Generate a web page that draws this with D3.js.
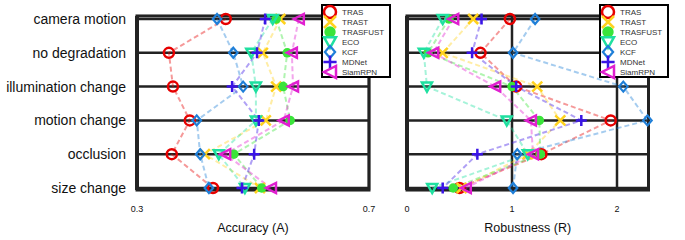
<!DOCTYPE html>
<html>
<head>
<meta charset="utf-8">
<script src="https://d3js.org/d3.v7.min.js"></script>
<style>
  body { margin: 0; background: #fff; font-family: "Liberation Sans", Arial, sans-serif; }
  .grid { stroke: #222; stroke-width: 2.5; }
  .frame { stroke: #222; stroke-width: 3; fill: none; }
  .link { fill: none; stroke-width: 2; stroke-dasharray: 5,3; opacity: 0.4; }
</style>
</head>
<body>
<div id="chart"></div>
<script>
  // categories (rows) and trackers (series)
  const categories = ["camera motion", "no degradation", "illumination change", "motion change", "occlusion", "size change"];
  const trackers = ["TRAS", "TRAST", "TRASFUST", "ECO", "KCF", "MDNet", "SiamRPN"];
  const colors = ["#e60000", "#ffd21f", "#3ae43a", "#1fe0a0", "#1f7fd8", "#3a14e6", "#e020d0"];
  const shapes = ["o", "x", "dot", "v", "d", "+", "<"];

  // accuracy per tracker, in the order of categories
  const accuracy = [
    [0.453, 0.355, 0.362, 0.391, 0.360, 0.431],
    [0.547, 0.517, 0.540, 0.522, 0.417, 0.512],
    [0.540, 0.559, 0.552, 0.564, 0.467, 0.515],
    [0.534, 0.497, 0.505, 0.505, 0.441, 0.486],
    [0.438, 0.466, 0.483, 0.403, 0.409, 0.424],
    [0.521, 0.507, 0.464, 0.510, 0.502, 0.481],
    [0.579, 0.567, 0.569, 0.553, 0.452, 0.531]
  ];
  // robustness per tracker
  const robustness = [
    [0.98, 0.70, 1.04, 1.94, 1.28, 0.50],
    [0.63, 0.34, 1.24, 1.46, 1.15, 0.52],
    [0.40, 0.20, 1.00, 1.26, 1.27, 0.44],
    [0.34, 0.16, 0.19, 0.95, 1.15, 0.24],
    [1.22, 1.01, 2.06, 2.29, 1.05, 1.01],
    [0.71, 0.62, 1.04, 1.66, 0.67, 0.34],
    [0.44, 0.25, 0.84, 1.18, 1.20, 0.56]
  ];
  const accTicks = [0.3, 0.7];
  const robTicks = [0, 1, 2];

  const svg = d3.select("#chart").append("svg")
    .attr("width", 685).attr("height", 240);

  const y = d3.scaleLinear().domain([0, 5]).range([19, 188]);
  const yTop = y(-0.09), yBot = y(5.06);

  // row labels
  svg.append("g").selectAll("text")
    .data(categories).enter().append("text")
    .attr("x", 126).attr("y", (d, i) => y(i))
    .attr("dy", "0.36em")
    .attr("text-anchor", "end")
    .style("font-size", "14px")
    .attr("fill", "#111")
    .text(d => d);

  function marker(g, shape, color, s) {
    if (shape === "o") {
      g.append("circle").attr("r", s).attr("fill", "none").attr("stroke", color).attr("stroke-width", 2.5);
    } else if (shape === "dot") {
      g.append("circle").attr("r", s * 0.95).attr("fill", color);
    } else if (shape === "x") {
      g.append("path").attr("d", `M${-s},${-s}L${s},${s}M${-s},${s}L${s},${-s}`)
        .attr("stroke", color).attr("stroke-width", 2.5);
    } else if (shape === "+") {
      g.append("path").attr("d", `M${-s * 1.1},0L${s * 1.1},0M0,${-s * 1.1}L0,${s * 1.1}`)
        .attr("stroke", color).attr("stroke-width", 2.5);
    } else if (shape === "v") {
      g.append("path").attr("d", `M${-s},${-s * 0.8}L${s},${-s * 0.8}L0,${s}Z`)
        .attr("fill", "none").attr("stroke", color).attr("stroke-width", 2.5);
    } else if (shape === "<") {
      g.append("path").attr("d", `M${s},${-s}L${s},${s}L${-s},0Z`)
        .attr("fill", "none").attr("stroke", color).attr("stroke-width", 2.5);
    } else if (shape === "d") {
      g.append("path").attr("d", `M0,${-s}L${s * 0.85},0L0,${s}L${-s * 0.85},0Z`)
        .attr("fill", "none").attr("stroke", color).attr("stroke-width", 2.2);
    }
  }

  function panel(values, x, ticks, domainEnd, label, legendX) {
    const g = svg.append("g");
    const x0 = x(x.domain()[0]), x1 = x(domainEnd);

    // horizontal row lines
    g.selectAll(".grid-h").data(categories).enter().append("line")
      .attr("class", "grid")
      .attr("x1", x0).attr("x2", x1)
      .attr("y1", (d, i) => y(i)).attr("y2", (d, i) => y(i));

    // vertical lines at ticks
    g.selectAll(".grid-v").data(ticks).enter().append("line")
      .attr("class", "grid")
      .attr("x1", d => x(d)).attr("x2", d => x(d))
      .attr("y1", yTop).attr("y2", yBot);

    // frame
    g.append("rect").attr("class", "frame")
      .attr("x", x0).attr("y", yTop)
      .attr("width", x1 - x0).attr("height", yBot - yTop);
    g.append("line").attr("x1", x0).attr("x2", x0).attr("y1", yTop).attr("y2", yBot)
      .attr("stroke", "#222").attr("stroke-width", 4);

    // tick labels
    g.selectAll(".tick").data(ticks).enter().append("text")
      .attr("x", d => x(d)).attr("y", 212)
      .attr("text-anchor", "middle")
      .style("font-size", "9px")
      .attr("fill", "#111")
      .text(d => d);

    g.append("text")
      .attr("x", (x0 + x1) / 2)
      .attr("y", 232)
      .attr("text-anchor", "middle")
      .style("font-size", "12.5px")
      .attr("fill", "#111")
      .text(label);

    // dashed links
    const line = d3.line().x(d => x(d[0])).y(d => y(d[1]));
    trackers.forEach((t, k) => {
      g.append("path").attr("class", "link")
        .attr("stroke", colors[k])
        .attr("d", line(values[k].map((v, i) => [v, i])));
    });

    // markers
    trackers.forEach((t, k) => {
      values[k].forEach((v, i) => {
        const m = g.append("g").attr("transform", `translate(${x(v)},${y(i)})`);
        marker(m, shapes[k], colors[k], 5);
      });
    });

    // legend
    const lg = g.append("g").attr("transform", `translate(${legendX},5)`);
    lg.append("rect").attr("width", 68).attr("height", 72)
      .attr("fill", "#fff").attr("stroke", "#000").attr("stroke-width", 2);
    trackers.forEach((t, k) => {
      const m = lg.append("g").attr("transform", `translate(8,${7 + k * 10})`);
      marker(m, shapes[k], colors[k], 6);
    });
    trackers.forEach((t, k) => {
      lg.append("text").attr("x", 20).attr("y", 7 + k * 10)
        .attr("dy", "0.35em")
        .style("font-size", "8px")
        .attr("fill", "#333")
        .text(t);
    });
  }

  const xAcc = d3.scaleLinear().domain([0.3, 0.7]).range([137, 369]);
  const xRob = d3.scaleLinear().domain([0, 2]).range([407, 617]);

  panel(accuracy, xAcc, accTicks, 0.7, "Accuracy (A)", 322);
  panel(robustness, xRob, robTicks, 2.3, "Robustness (R)", 600);
</script>
</body>
</html>
